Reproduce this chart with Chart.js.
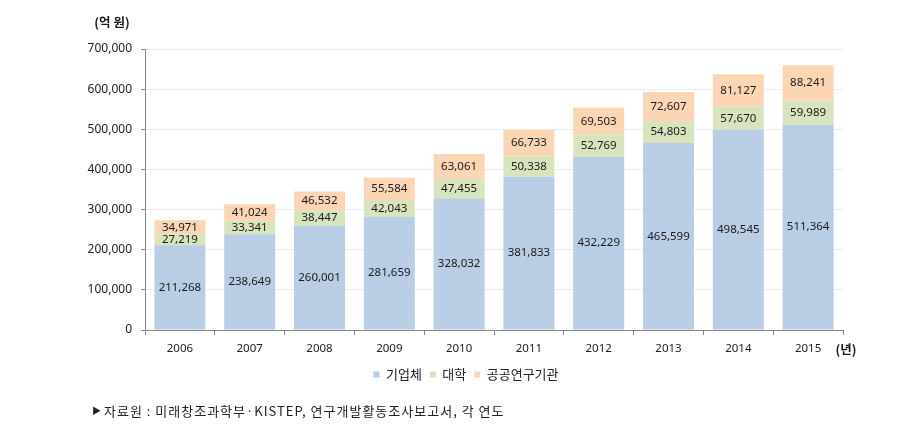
<!DOCTYPE html>
<html><head><meta charset="utf-8">
<script src="https://cdn.jsdelivr.net/npm/chart.js@4"></script>
<style>
html,body{margin:0;padding:0;background:#fff;}
#wrap{position:relative;width:921px;height:438px;}
canvas{display:block;}
</style></head>
<body><div id="wrap"><canvas id="c" width="921" height="438"></canvas></div>
<script>
const categories = ['2006','2007','2008','2009','2010','2011','2012','2013','2014','2015'];
const seriesNames = ['기업체','대학','공공연구기관'];
const companyValues = [211268,238649,260001,281659,328032,381833,432229,465599,498545,511364];
const universityValues = [27219,33341,38447,42043,47455,50338,52769,54803,57670,59989];
const publicInstValues = [34971,41024,46532,55584,63061,66733,69503,72607,81127,88241];
const yTicks = [0,100000,200000,300000,400000,500000,600000,700000];
const yUnit = '(억 원)';
const xUnit = '(년)';
const sourceMark = '▶';
const sourceText = '자료원 : 미래창조과학부·KISTEP, 연구개발활동조사보고서, 각 연도';

const FONT = "'Noto Sans', 'Noto Sans CJK KR', sans-serif";
const KFONT = "'Noto Sans CJK KR', 'Noto Sans', sans-serif";
const colors = ['#b9cde5','#d7e4bd','#fcd5b5'];

const labelPlugin = {
  id:'labels',
  afterLayout(chart){
    const lg = chart.legend;
    if(lg){ const w = lg.right - lg.left; const c = 466; lg.left = c - w/2; lg.right = c + w/2; }
  },
  afterDatasetsDraw(chart){
    const ctx = chart.ctx;
    ctx.save();
    ctx.font = "11.5px " + FONT;
    ctx.fillStyle = '#1a1a1a';
    ctx.textAlign='center'; ctx.textBaseline='middle';
    chart.data.datasets.forEach((ds,i)=>{
      const meta = chart.getDatasetMeta(i);
      meta.data.forEach((bar,j)=>{
        const yc = (bar.y + bar.base)/2;
        ctx.fillText(ds.data[j].toLocaleString('en-US'), bar.x, yc);
      });
    });
    ctx.restore();
  },
  afterDraw(chart){
    const ctx = chart.ctx, ca = chart.chartArea;
    ctx.save();
    ctx.fillStyle='#1a1a1a';
    ctx.font = "bold 12.5px " + KFONT;
    ctx.textAlign='center'; ctx.textBaseline='middle';
    ctx.fillText(yUnit, 112, 22);
    ctx.fillText(xUnit, ca.right + 3, 349);
    ctx.textAlign='left';
    ctx.fillStyle='#222';
    ctx.font = "9px " + FONT;
    ctx.fillText(sourceMark, 92, 411);
    ctx.font = "13px " + KFONT;
    ctx.letterSpacing = '1px';
    ctx.fillText(sourceText, 104, 411);
    ctx.restore();
  }
};

new Chart(document.getElementById('c'),{
  type:'bar',
  data:{
    labels:categories,
    datasets:[
      {label:seriesNames[0],data:companyValues,backgroundColor:colors[0]},
      {label:seriesNames[1],data:universityValues,backgroundColor:colors[1]},
      {label:seriesNames[2],data:publicInstValues,backgroundColor:colors[2]}
    ]
  },
  options:{
    responsive:false,animation:false,
    layout:{padding:{left:0,right:78,top:49,bottom:47}},
    datasets:{bar:{barPercentage:0.73,categoryPercentage:1}},
    plugins:{
      legend:{position:'bottom',labels:{font:{family:KFONT,size:13},color:'#222',boxWidth:6,boxHeight:6,padding:8}},
      tooltip:{enabled:false}
    },
    scales:{
      x:{stacked:true,
        grid:{display:true,drawOnChartArea:false,offset:true,color:'#888',tickLength:5},
        border:{color:'#888'},
        ticks:{font:{family:FONT,size:11.5},color:'#222',padding:7},
        afterFit(s){s.height=30;}
      },
      y:{stacked:true,min:0,max:700000,
        afterBuildTicks(s){s.ticks=yTicks.map(v=>({value:v}));},
        grid:{color:'#ececec',tickLength:4,tickColor:'#888'},
        border:{color:'#888'},
        ticks:{font:{family:FONT,size:12},color:'#222',padding:9,callback:v=>v.toLocaleString('en-US')},
        afterFit(s){s.width=145;}
      }
    }
  },
  plugins:[labelPlugin]
});
</script></body></html>
